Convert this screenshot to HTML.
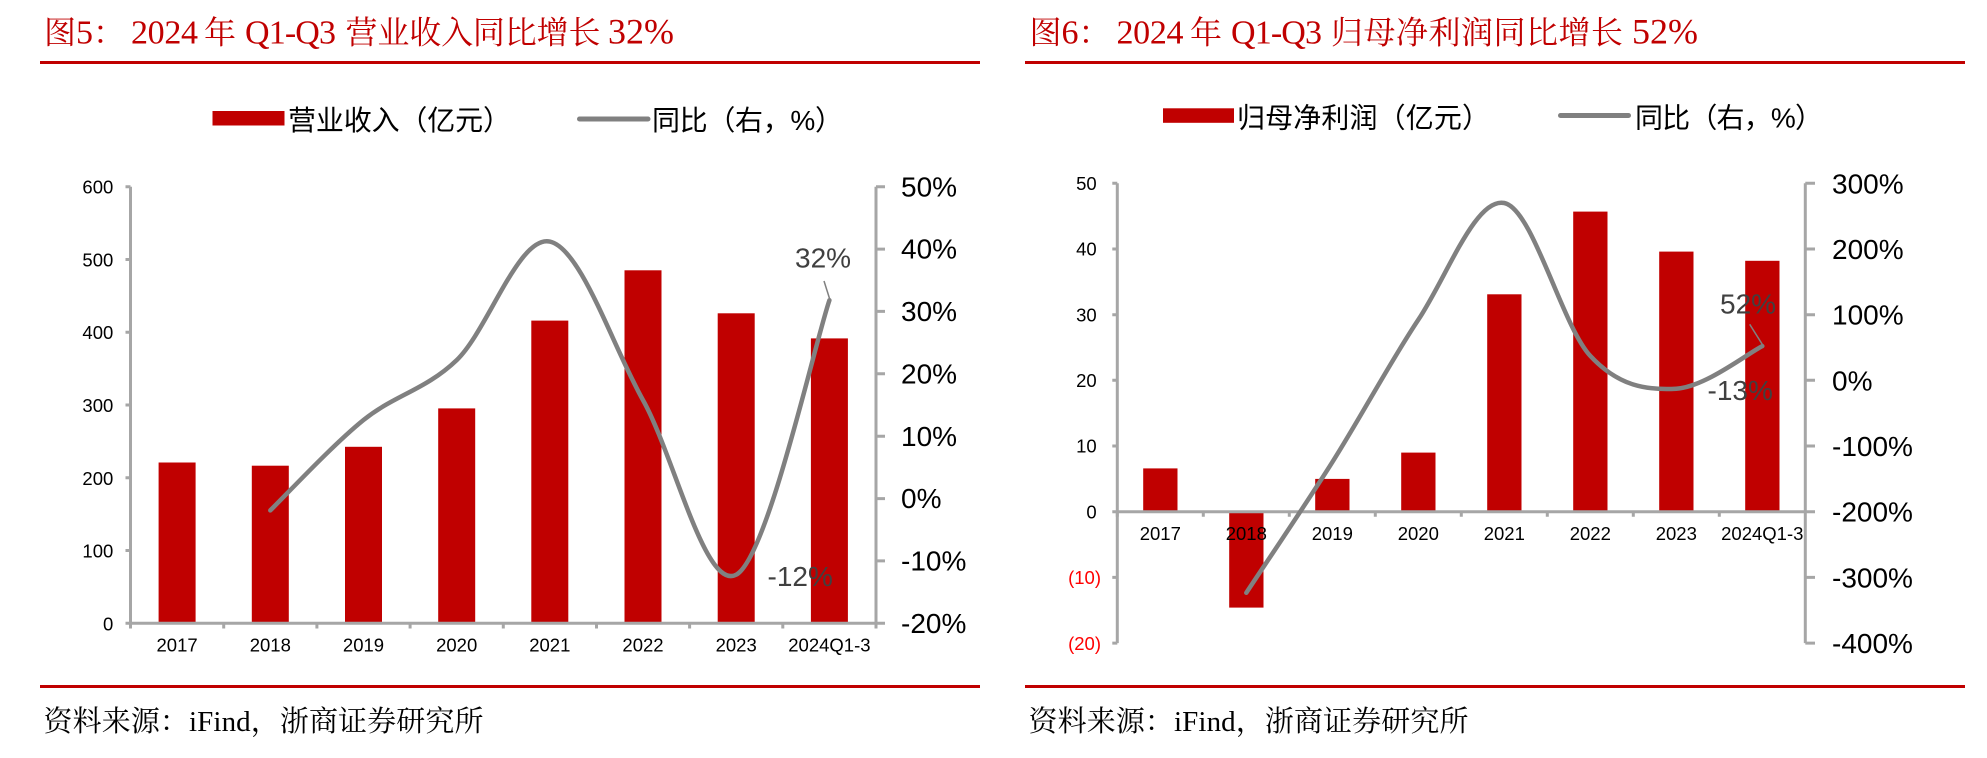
<!DOCTYPE html>
<html>
<head>
<meta charset="utf-8">
<style>
html,body{margin:0;padding:0;background:#fff;}
svg{display:block;}
.ttl{font-family:"Liberation Serif","Noto Serif CJK SC",serif;fill:#c00000;}
.src{font-family:"Liberation Serif","Noto Serif CJK SC",serif;fill:#000;}
.lg{font-family:"Liberation Sans","Noto Sans CJK SC",sans-serif;fill:#000;font-size:28px;}
.ax{font-family:"Liberation Sans",Arial,sans-serif;fill:#000;}
.sm{font-size:18.5px;}
.bg{font-size:28px;}
.dl{font-family:"Liberation Sans",Arial,sans-serif;fill:#404040;font-size:28px;}
</style>
</head>
<body>
<svg width="1987" height="758" viewBox="0 0 1987 758" xmlns="http://www.w3.org/2000/svg">
<rect x="0" y="0" width="1987" height="758" fill="#fff"/>

<!-- ================= LEFT PANEL ================= -->
<text class="ttl" x="44" y="43.5" font-size="32">图<tspan font-size="34">5</tspan>：</text>
<text class="ttl" x="131" y="43.5" font-size="34" textLength="67">2024</text>
<text class="ttl" x="204" y="43.5" font-size="32">年</text>
<text class="ttl" x="245" y="43.5" font-size="34" textLength="91">Q1-Q3</text>
<text class="ttl" x="345.5" y="43.5" font-size="32" textLength="255">营业收入同比增长</text>
<text class="ttl" x="608" y="43.5" font-size="36">32%</text>
<rect x="40" y="61" width="940" height="3" fill="#c00000"/>

<!-- legend -->
<rect x="212.5" y="111" width="72" height="14.5" fill="#c00000"/>
<text class="lg" x="288" y="130" textLength="223">营业收入（亿元）</text>
<line x1="579.5" y1="119" x2="648" y2="119" stroke="#808080" stroke-width="5" stroke-linecap="round"/>
<text class="lg" x="652" y="130" textLength="191">同比（右，%）</text>

<!-- bars -->
<g fill="#c00000">
<rect x="158.6" y="462.5" width="37" height="160.8"/>
<rect x="251.8" y="465.7" width="37" height="157.6"/>
<rect x="345.0" y="446.8" width="37" height="176.5"/>
<rect x="438.2" y="408.4" width="37" height="214.9"/>
<rect x="531.3" y="320.6" width="37" height="302.7"/>
<rect x="624.5" y="270.3" width="37" height="353.0"/>
<rect x="717.7" y="313.3" width="37" height="310.0"/>
<rect x="810.9" y="338.4" width="37" height="284.9"/>
</g>

<!-- axes -->
<g stroke="#a6a6a6" stroke-width="3" fill="none">
<line x1="130.5" y1="186.7" x2="130.5" y2="624.8"/>
<line x1="129" y1="623.3" x2="877.5" y2="623.3"/>
<line x1="876" y1="186.7" x2="876" y2="624.8"/>
<path d="M125.5 623.3H130.5M125.5 550.5H130.5M125.5 477.8H130.5M125.5 405.0H130.5M125.5 332.2H130.5M125.5 259.5H130.5M125.5 186.7H130.5"/>
<path d="M876 186.7H885M876 249.1H885M876 311.4H885M876 373.8H885M876 436.2H885M876 498.6H885M876 560.9H885M876 623.3H885"/>
<path d="M130.5 623.3V628.5M223.7 623.3V628.5M316.9 623.3V628.5M410.1 623.3V628.5M503.3 623.3V628.5M596.5 623.3V628.5M689.6 623.3V628.5M782.8 623.3V628.5M876 623.3V628.5"/>
</g>

<g class="ax sm" text-anchor="end">
<text x="113.3" y="630.3">0</text>
<text x="113.3" y="557.5">100</text>
<text x="113.3" y="484.8">200</text>
<text x="113.3" y="412.0">300</text>
<text x="113.3" y="339.2">400</text>
<text x="113.3" y="266.5">500</text>
<text x="113.3" y="193.7">600</text>
</g>
<g class="ax bg">
<text x="901" y="196.3">50%</text>
<text x="901" y="258.7">40%</text>
<text x="901" y="321.0">30%</text>
<text x="901" y="383.4">20%</text>
<text x="901" y="445.8">10%</text>
<text x="901" y="508.2">0%</text>
<text x="901" y="570.5">-10%</text>
<text x="901" y="632.9">-20%</text>
</g>
<g class="ax sm" text-anchor="middle">
<text x="177.1" y="651.7">2017</text>
<text x="270.3" y="651.7">2018</text>
<text x="363.5" y="651.7">2019</text>
<text x="456.7" y="651.7">2020</text>
<text x="549.8" y="651.7">2021</text>
<text x="643.0" y="651.7">2022</text>
<text x="736.2" y="651.7">2023</text>
<text x="829.4" y="651.7">2024Q1-3</text>
</g>

<path d="M270.3 510.4 C285.8 495.3 332.4 445.1 363.5 420.0 C394.6 395.0 425.7 389.8 456.7 360.1 C487.8 330.4 518.8 234.9 549.8 241.6 C580.9 248.3 611.9 344.6 643.0 400.1 C674.1 455.6 705.1 591.3 736.2 574.7 C767.3 558.1 813.9 346.0 829.4 300.3" fill="none" stroke="#808080" stroke-width="4.5" stroke-linecap="round" stroke-linejoin="round"/>
<line x1="824" y1="281" x2="830" y2="300" stroke="#808080" stroke-width="1.5"/>
<text class="dl" x="795" y="267.5">32%</text>
<text class="dl" x="767.5" y="586">-12%</text>

<rect x="40" y="685" width="940" height="3" fill="#c00000"/>
<text class="src" x="43.5" y="731" font-size="29" textLength="440">资料来源：iFind，浙商证券研究所</text>

<!-- ================= RIGHT PANEL ================= -->
<text class="ttl" x="1029.5" y="43.5" font-size="32">图<tspan font-size="34">6</tspan>：</text>
<text class="ttl" x="1116.5" y="43.5" font-size="34" textLength="67">2024</text>
<text class="ttl" x="1190" y="43.5" font-size="32">年</text>
<text class="ttl" x="1231" y="43.5" font-size="34" textLength="91">Q1-Q3</text>
<text class="ttl" x="1331" y="43.5" font-size="32" textLength="292">归母净利润同比增长</text>
<text class="ttl" x="1632" y="43.5" font-size="36">52%</text>
<rect x="1025" y="61" width="940" height="3" fill="#c00000"/>

<rect x="1163" y="108.3" width="71" height="14.5" fill="#c00000"/>
<text class="lg" x="1237" y="127.5" textLength="253">归母净利润（亿元）</text>
<line x1="1560.5" y1="115.5" x2="1628.5" y2="115.5" stroke="#808080" stroke-width="5" stroke-linecap="round"/>
<text class="lg" x="1635" y="127.5" textLength="188">同比（右，%）</text>

<g fill="#c00000">
<rect x="1143.2" y="468.4" width="34.3" height="43.3"/>
<rect x="1229.2" y="511.7" width="34.3" height="95.9"/>
<rect x="1315.2" y="478.9" width="34.3" height="32.8"/>
<rect x="1401.2" y="452.6" width="34.3" height="59.1"/>
<rect x="1487.2" y="294.3" width="34.3" height="217.4"/>
<rect x="1573.2" y="211.6" width="34.3" height="300.1"/>
<rect x="1659.2" y="251.6" width="34.3" height="260.1"/>
<rect x="1745.2" y="260.8" width="34.3" height="250.9"/>
</g>

<g stroke="#a6a6a6" stroke-width="3" fill="none">
<line x1="1117.3" y1="183.3" x2="1117.3" y2="643.1"/>
<line x1="1117.3" y1="511.7" x2="1805.3" y2="511.7"/>
<line x1="1805.3" y1="183.3" x2="1805.3" y2="643.1"/>
<path d="M1112.3 183.3H1117.3M1112.3 249.0H1117.3M1112.3 314.7H1117.3M1112.3 380.3H1117.3M1112.3 446.0H1117.3M1112.3 511.7H1117.3M1112.3 577.4H1117.3M1112.3 643.1H1117.3"/>
<path d="M1805.3 183.3H1815M1805.3 249.0H1815M1805.3 314.7H1815M1805.3 380.3H1815M1805.3 446.0H1815M1805.3 511.7H1815M1805.3 577.4H1815M1805.3 643.1H1815"/>
<path d="M1117.3 511.7V516.7M1203.3 511.7V516.7M1289.3 511.7V516.7M1375.3 511.7V516.7M1461.3 511.7V516.7M1547.3 511.7V516.7M1633.3 511.7V516.7M1719.3 511.7V516.7"/>
</g>

<g class="ax sm" text-anchor="end">
<text x="1096.7" y="190.0">50</text>
<text x="1096.7" y="255.7">40</text>
<text x="1096.7" y="321.4">30</text>
<text x="1096.7" y="387.0">20</text>
<text x="1096.7" y="452.7">10</text>
<text x="1096.7" y="518.4">0</text>
<text x="1101" y="584.1" fill="#ff0000">(10)</text>
<text x="1101" y="649.8" fill="#ff0000">(20)</text>
</g>
<g class="ax bg">
<text x="1832" y="193.3">300%</text>
<text x="1832" y="259.0">200%</text>
<text x="1832" y="324.7">100%</text>
<text x="1832" y="390.3">0%</text>
<text x="1832" y="456.0">-100%</text>
<text x="1832" y="521.7">-200%</text>
<text x="1832" y="587.4">-300%</text>
<text x="1832" y="653.1">-400%</text>
</g>

<g class="ax sm" text-anchor="middle">
<text x="1160.3" y="540">2017</text>
<text x="1246.3" y="540">2018</text>
<text x="1332.3" y="540">2019</text>
<text x="1418.3" y="540">2020</text>
<text x="1504.3" y="540">2021</text>
<text x="1590.3" y="540">2022</text>
<text x="1676.3" y="540">2023</text>
<text x="1762.3" y="540">2024Q1-3</text>
</g>

<path d="M1246.3 592.8 C1260.6 571.0 1303.6 507.7 1332.3 462.2 C1361.0 416.7 1389.6 363.0 1418.3 319.8 C1447.0 276.6 1475.6 197.0 1504.3 203.0 C1533.0 209.0 1561.6 325.0 1590.3 355.9 C1619.0 386.9 1647.6 390.3 1676.3 388.7 C1705.0 387.1 1748.0 353.2 1762.3 346.1" fill="none" stroke="#808080" stroke-width="4.5" stroke-linecap="round" stroke-linejoin="round"/>
<line x1="1749.7" y1="324.3" x2="1763" y2="345.5" stroke="#808080" stroke-width="1.5"/>
<text class="dl" x="1720" y="313.3">52%</text>
<text class="dl" x="1707.5" y="400">-13%</text>

<rect x="1025" y="685" width="940" height="3" fill="#c00000"/>
<text class="src" x="1028.5" y="731" font-size="29" textLength="440">资料来源：iFind，浙商证券研究所</text>
</svg>
</body>
</html>
